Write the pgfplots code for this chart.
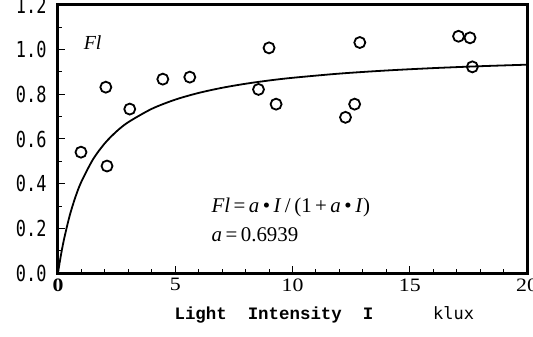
\documentclass[border=0pt]{standalone}
\usepackage{fontspec}
\setmainfont{Liberation Serif}
\newfontfamily\monofont{DejaVu Sans Mono}
\newfontfamily\courbold{Liberation Mono}
\usepackage{pgfplots}
\pgfplotsset{compat=1.18}
\begin{document}
\begin{tikzpicture}
\begin{axis}[
  name=ax,
  scale only axis,
  width=469bp, height=268bp,
  xmin=0, xmax=20, ymin=0, ymax=1.2,
  xtick={0,5,10,15,20},
  xticklabels={\textbf{0},5,10,15,20},
  ytick={0,0.2,0.4,0.6,0.8,1.0,1.2},
  yticklabels={0.0,0.2,0.4,0.6,0.8,1.0,1.2},
  minor x tick num=4,
  minor y tick num=1,
  tick pos=left,
  major tick length=7bp,
  minor tick length=4bp,
  tick style={black, line width=1bp},
  axis line style={line width=3bp},
  yticklabel style={font=\monofont\fontsize{17}{17}\selectfont, xshift=-8bp, yscale=1.3},
  xticklabel style={font=\fontsize{19}{19}\selectfont, yshift=-2bp, xscale=1.15},
  clip=false,
]
\addplot[black, line width=1.8bp, smooth] coordinates {
(0,0) (0.1,0.0649) (0.25,0.1478) (0.5,0.2576) (0.75,0.3423) (1,0.4096)
(1.5,0.5100) (2,0.5812) (2.5,0.6343) (3,0.6755) (4,0.7351) (5,0.7763)
(6,0.8063) (7,0.8293) (8,0.8474) (9,0.8620) (10,0.8740) (12,0.8928)
(14,0.9067) (16,0.9174) (18,0.9259) (20,0.9328)
};
\addplot[only marks, mark=o, mark size=5.5bp, mark options={line width=1.8bp, fill=white}] coordinates {
(0.98,0.541) (2.04,0.832) (2.09,0.479) (3.06,0.734) (4.47,0.868) (5.62,0.877)
(9.0,1.008) (8.55,0.822) (9.3,0.756) (12.87,1.032) (12.65,0.756) (12.26,0.697)
(17.08,1.06) (17.57,1.053) (17.67,0.923)
};
\node[anchor=west, font=\fontsize{20}{20}\selectfont\itshape] at (axis cs:0.95,1.03) {Fl};
\node[anchor=west, font=\fontsize{21}{21}\selectfont] at (axis cs:6.4,0.295) {\textit{Fl}\,=\,\textit{a}\,•\,\textit{I}\,/\,(1\,+\,\textit{a}\,•\,\textit{I})};
\node[anchor=west, font=\fontsize{21}{21}\selectfont] at (axis cs:6.4,0.17) {\textit{a}\,=\,0.6939};
\node[anchor=base west, font=\courbold\bfseries\fontsize{17.5}{17.5}\selectfont] at (axis cs:4.82,-0.208) {Light\ \ Intensity\ \ I};
\node[anchor=base west, font=\monofont\fontsize{17}{17}\selectfont] at (axis cs:15.85,-0.208) {klux};
\end{axis}
\pgfresetboundingbox
\path[use as bounding box] ([xshift=-58bp,yshift=-64bp]ax.south west) rectangle ([xshift=6bp,yshift=5bp]ax.north east);
\end{tikzpicture}
\end{document}
